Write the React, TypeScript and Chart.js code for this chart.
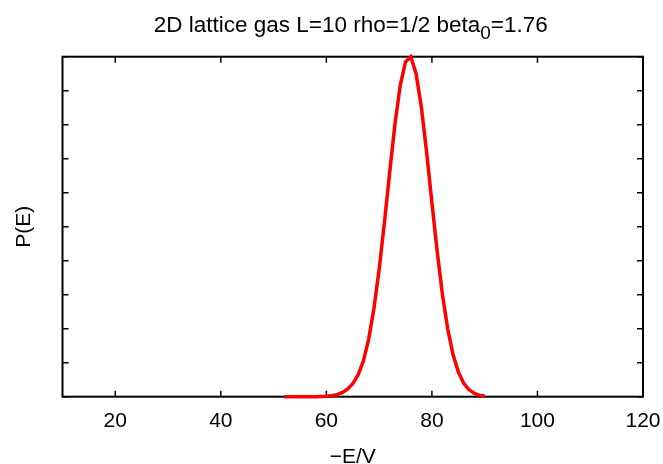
import React, { useEffect, useRef } from "react";
import { Chart, registerables } from "chart.js";

Chart.register(...registerables);

// ---- data ----
const energies: number[] = [
  52, 53, 54, 55, 56, 57, 58, 59, 60, 61, 62, 63, 64, 65, 66, 67, 68, 69, 70,
  71, 72, 73, 74, 75, 76, 77, 78, 79, 80, 81, 82, 83, 84, 85, 86, 87, 88, 89, 90,
];
const probabilities: number[] = [
  0, 0, 0, 0, 0, 0.0001, 0.0002, 0.0005, 0.001, 0.003, 0.006, 0.012, 0.022,
  0.038, 0.064, 0.104, 0.168, 0.258, 0.374, 0.512, 0.66, 0.802, 0.916, 0.985,
  1.0, 0.95, 0.852, 0.719, 0.571, 0.427, 0.3, 0.199, 0.124, 0.073, 0.04, 0.021,
  0.01, 0.0047, 0.002,
];
const xTickValues: number[] = [20, 40, 60, 80, 100, 120];
const yTickValues: number[] = [0, 0.1, 0.2, 0.3, 0.4, 0.5, 0.6, 0.7, 0.8, 0.9, 1.0];
const titleParts: string[] = ["2D lattice gas L=10 rho=1/2 beta", "0", "=1.76"];
const xAxisTitle = "\u2212E/V";
const yAxisTitle = "P(E)";

const FONT = "'Liberation Sans', Arial, Helvetica, sans-serif";

const framePlugin = {
  id: "gnuFrame",
  beforeDatasetsDraw(chart: any) {
    const { ctx, chartArea } = chart;
    const { left, right, top, bottom } = chartArea;
    const xs = chart.scales.x;
    const ys = chart.scales.y;
    ctx.save();
    ctx.strokeStyle = "#000";
    ctx.lineWidth = 1.5;
    const tl = 6;
    ctx.beginPath();
    for (const v of xTickValues) {
      const px = xs.getPixelForValue(v);
      ctx.moveTo(px, bottom);
      ctx.lineTo(px, bottom - tl);
      ctx.moveTo(px, top);
      ctx.lineTo(px, top + tl);
    }
    for (const v of yTickValues) {
      const py = ys.getPixelForValue(v);
      ctx.moveTo(left, py);
      ctx.lineTo(left + tl, py);
      ctx.moveTo(right, py);
      ctx.lineTo(right - tl, py);
    }
    ctx.stroke();
    ctx.lineWidth = 2;
    ctx.strokeRect(left, top, right - left, bottom - top);
    ctx.restore();
  },
};

const titlePlugin = {
  id: "subTitle",
  afterDraw(chart: any) {
    const { ctx, chartArea } = chart;
    ctx.save();
    ctx.fillStyle = "#000";
    ctx.textBaseline = "alphabetic";
    const mainFont = `22.5px ${FONT}`;
    const subFont = `19px ${FONT}`;
    ctx.font = mainFont;
    const w0 = ctx.measureText(titleParts[0]).width;
    const w2 = ctx.measureText(titleParts[2]).width;
    ctx.font = subFont;
    const w1 = ctx.measureText(titleParts[1]).width;
    const total = w0 + w1 + w2;
    const cx = (chartArea.left + chartArea.right) / 2 - 2;
    let x = cx - total / 2;
    const baseY = 32;
    ctx.textAlign = "left";
    ctx.font = mainFont;
    ctx.fillText(titleParts[0], x, baseY);
    x += w0;
    ctx.font = subFont;
    ctx.fillText(titleParts[1], x, baseY + 7);
    x += w1;
    ctx.font = mainFont;
    ctx.fillText(titleParts[2], x, baseY);
    ctx.restore();
  },
};

export default function App() {
  const ref = useRef<HTMLCanvasElement | null>(null);
  useEffect(() => {
    if (!ref.current) return;
    const chart = new Chart(ref.current, {
      type: "line",
      data: {
        datasets: [
          {
            data: energies.map((e, i) => ({ x: e, y: probabilities[i] })),
            borderColor: "#ff0000",
            borderWidth: 3.5,
            pointRadius: 0,
            tension: 0,
            fill: false,
            clip: false as any,
          },
        ],
      },
      options: {
        animation: false,
        responsive: false,
        maintainAspectRatio: false,
        layout: { padding: { top: 56.7, right: 20, left: 0, bottom: 0 } },
        plugins: {
          legend: { display: false },
          title: { display: false },
          tooltip: { enabled: false },
        },
        scales: {
          x: {
            type: "linear",
            min: 10,
            max: 120,
            afterBuildTicks: (scale: any) => {
              scale.ticks = xTickValues.map((v) => ({ value: v }));
            },
            afterFit: (scale: any) => {
              scale.height = 67.3;
              scale.paddingLeft = 0;
              scale.paddingRight = 0;
            },
            grid: { display: false, drawTicks: false },
            border: { display: false },
            ticks: {
              color: "#000",
              padding: 12,
              maxRotation: 0,
              autoSkip: false,
              font: { family: FONT, size: 21 },
            },
            title: {
              display: true,
              text: xAxisTitle,
              color: "#000",
              font: { family: FONT, size: 21, lineHeight: 1 },
              padding: { top: 0, bottom: -4 },
            },
          },
          y: {
            type: "linear",
            min: 0,
            max: 1,
            afterFit: (scale: any) => {
              scale.width = 62.5;
              scale.paddingTop = 0;
              scale.paddingBottom = 0;
            },
            grid: { display: false, drawTicks: false },
            border: { display: false },
            ticks: { display: false },
            title: {
              display: true,
              text: yAxisTitle,
              color: "#000",
              font: { family: FONT, size: 21, lineHeight: 1 },
              padding: { top: 13.5, bottom: 0 },
            },
          },
        },
      },
      plugins: [framePlugin, titlePlugin],
    });
    return () => chart.destroy();
  }, []);
  return (
    <div style={{ position: "absolute", left: 0, top: 0, width: 663, height: 464, background: "#fff" }}>
      <canvas ref={ref} width={663} height={464} style={{ display: "block" }} />
    </div>
  );
}
